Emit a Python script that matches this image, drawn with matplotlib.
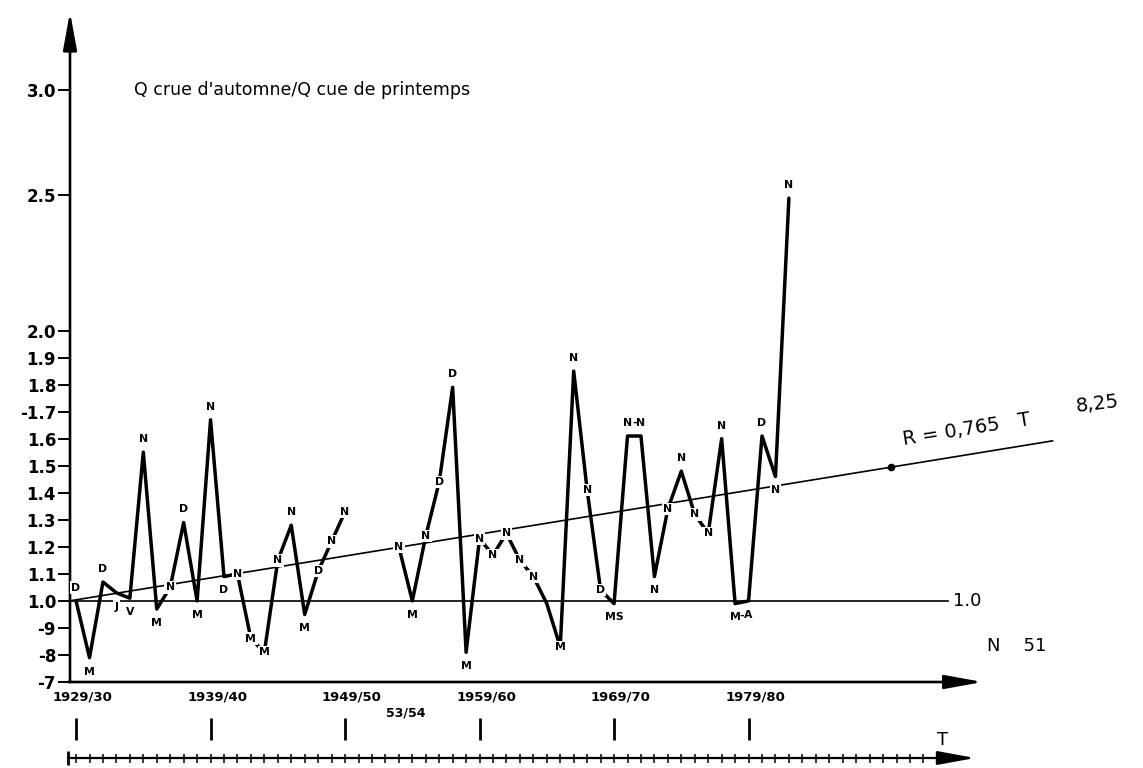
import numpy as np
import matplotlib
matplotlib.use("Agg")
import matplotlib.pyplot as plt

# ---------------- data ----------------
years_a = list(range(1929, 1950))
vals_a = [1.00, 0.79, 1.07, 1.03, 1.01, 1.55, 0.97, 1.05, 1.29, 1.00, 1.67,
          1.09, 1.10, 0.86, 0.81, 1.15, 1.28, 0.95, 1.11, 1.22, 1.33]
labels_a = ['D', 'M', 'D', 'J', 'V', 'N', 'M', 'N', 'D', 'M', 'N',
            'D', 'N', 'M', 'M', 'N', 'N', 'M', 'D', 'N', 'N']
lpos_a = ['a', 'b', 'a', 'b', 'b', 'a', 'b', 'o', 'a', 'b', 'a',
          'b', 'o', 'o', 'o', 'o', 'a', 'b', 'o', 'o', 'o']

years_b = list(range(1953, 1983))
vals_b = [1.20, 1.00, 1.24, 1.44, 1.79, 0.81, 1.23, 1.17, 1.25, 1.15, 1.09,
          0.99, 0.83, 1.85, 1.41, 1.04, 0.99, 1.61, 1.61, 1.09, 1.34, 1.48,
          1.32, 1.25, 1.60, 0.99, 1.00, 1.61, 1.46, 2.49]
labels_b = ['N', 'M', 'N', 'D', 'D', 'M', 'N', 'N', 'N', 'N', 'N',
            '', 'M', 'N', 'N', 'D', 'MS', 'N', 'N', 'N', 'N', 'N',
            'N', 'N', 'N', 'M', 'A', 'D', 'N', 'N']
lpos_b = ['o', 'b', 'o', 'o', 'a', 'b', 'o', 'o', 'o', 'o', 'o',
          'o', 'o', 'a', 'o', 'o', 'b', 'a', 'a', 'b', 'o', 'a',
          'o', 'o', 'a', 'b', 'b', 'a', 'b', 'a']
dash_pairs = [(1970, 1971, 'a'), (1978, 1979, 'b')]

trend_at_1929 = 1.004
trend_slope = 0.0081          # per year
trend_start, trend_end = 1928.55, 2001.6
trend_dot_year = 1989.6

decades = [1929, 1939, 1949, 1959, 1969, 1979]
decade_labels = ['1929/30', '1939/40', '1949/50', '1959/60', '1969/70', '1979/80']

ytick_vals = [0.7, 0.8, 0.9, 1.0, 1.1, 1.2, 1.3, 1.4, 1.5, 1.6, 1.7, 1.8, 1.9,
              2.0, 2.5, 3.0]
ytick_labels = ['-7', '-8', '-9', '1.0', '1.1', '1.2', '1.3', '1.4', '1.5',
                '1.6', '-1.7', '1.8', '1.9', '2.0', '2.5', '3.0']

# ---------------- figure ----------------
plt.rcParams['font.family'] = ['DejaVu Sans']
W, H = 1143, 768
PX_PER_YEAR = 13.45
X0, X1 = 1928.55, 1996.4
Y0, Y1 = 0.7, 3.37

fig = plt.figure(figsize=(W / 100, H / 100), dpi=100)
ax = fig.add_axes([70 / W, 86 / H, (X1 - X0) * PX_PER_YEAR / W, 670 / H])


def fwd(v):
    v = np.asarray(v, dtype=float)
    return np.where(v <= 2.5, v, 2.5 + (v - 2.5) * 0.78)


def inv(u):
    u = np.asarray(u, dtype=float)
    return np.where(u <= 2.5, u, 2.5 + (u - 2.5) / 0.78)


ax.set_yscale('function', functions=(fwd, inv))
ax.set_xlim(X0, X1)
ax.set_ylim(Y0, Y1)
for s in ax.spines.values():
    s.set_visible(False)

# axes with arrows
arrow_kw = dict(arrowstyle='-|>,head_length=2.3,head_width=0.42', lw=1.9,
                color='black', mutation_scale=10, shrinkA=0, shrinkB=0)
ax.annotate('', xy=(0, 1), xytext=(0, 0), xycoords='axes fraction',
            arrowprops=arrow_kw, annotation_clip=False)
ax.annotate('', xy=(1, 0), xytext=(-0.002, 0), xycoords='axes fraction',
            arrowprops=arrow_kw, annotation_clip=False)

ax.set_yticks(ytick_vals)
ax.set_yticklabels(ytick_labels)
ax.yaxis.set_minor_locator(matplotlib.ticker.NullLocator())
ax.tick_params(axis='y', direction='out', length=9, width=1.4, pad=1,
               labelsize=12)
for t in ax.get_yticklabels():
    t.set_fontweight('bold')
ax.set_xticks([])

# reference line 1.0 and trend
ax.plot([X0, 1993.8], [1.0, 1.0], color='black', lw=1.2, zorder=2)
tx = np.array([trend_start, trend_end])
ty = trend_at_1929 + trend_slope * (tx - 1929)
ax.plot(tx, ty, color='black', lw=1.2, zorder=2, clip_on=False)
ax.plot([trend_dot_year], [trend_at_1929 + trend_slope * (trend_dot_year - 1929)],
        'o', color='black', ms=4.5, zorder=3, clip_on=False)

# data series
for yrs, vals in ((years_a, vals_a), (years_b, vals_b)):
    ax.plot(yrs, vals, color='black', lw=2.5, solid_joinstyle='round',
            solid_capstyle='round', zorder=3, clip_on=False)

offs = {'a': (0, 9.5), 'b': (0, -10), 'o': (0, 0)}
lab_kw = dict(textcoords='offset points', ha='center', va='center',
              fontsize=7.8, fontweight='bold', zorder=5,
              bbox=dict(boxstyle='square,pad=0.12', fc='white', ec='none'))
for yrs, vals, labs, poss in ((years_a, vals_a, labels_a, lpos_a),
                              (years_b, vals_b, labels_b, lpos_b)):
    for yr, v, lab, p in zip(yrs, vals, labs, poss):
        if lab:
            ax.annotate(lab, (yr, v), xytext=offs[p], **lab_kw)
val_of = dict(zip(years_a + years_b, vals_a + vals_b))
for y1, y2, p in dash_pairs:
    ax.annotate('-', ((y1 + y2) / 2, (val_of[y1] + val_of[y2]) / 2),
                xytext=offs[p], textcoords='offset points', ha='center',
                va='center', fontsize=8, fontweight='bold', zorder=5)

# texts
ax.text(0.07, 3.0, "Q crue d'automne/Q cue de printemps",
        transform=ax.get_yaxis_transform(), fontsize=12.5, va='center',
        ha='left')
ax.text(1994.2, 1.0, '1.0', fontsize=13, va='center', ha='left',
        clip_on=False)
ax.text(1996.7, 0.833, 'N    51', fontsize=13, va='center', ha='left',
        clip_on=False)
ax.text(1990.5, 1.578, 'R = 0,765   T', fontsize=14, va='baseline',
        ha='left', rotation=9, rotation_mode='anchor', clip_on=False)
ax.text(2003.4, 1.70, '8,25', fontsize=14, va='baseline', ha='left',
        rotation=7, rotation_mode='anchor', clip_on=False)

for yr, lbl in zip(decades, decade_labels):
    ax.annotate(lbl, (yr + 0.5, 0), xycoords=('data', 'axes fraction'),
                xytext=(0, -11), textcoords='offset points', ha='center',
                va='center', fontsize=9.5, fontweight='bold',
                annotation_clip=False)
ax.annotate('53/54', (1953.5, 0), xycoords=('data', 'axes fraction'),
            xytext=(0, -22), textcoords='offset points', ha='center',
            va='center', fontsize=9, fontweight='bold', annotation_clip=False)

# lower time axis
ax2 = fig.add_axes([70 / W, 0, (X1 - X0) * PX_PER_YEAR / W, 60 / H])
ax2.set_xlim(X0, X1)
ax2.set_ylim(0, 60)
ax2.axis('off')
ax2.vlines(decades, 28, 50, color='black', lw=2.0, clip_on=False)
ax2.annotate('', xy=(1995.84, 10), xytext=(1928.4, 10),
             arrowprops=dict(arrowstyle='-|>,head_length=2.3,head_width=0.42',
                             lw=1.6, color='black', mutation_scale=10,
                             shrinkA=0, shrinkB=0), annotation_clip=False)
ax2.vlines(np.arange(1929, 1993), 5.5, 14.5, color='black', lw=1.1,
           clip_on=False)
ax2.vlines([1928.4], 3, 17, color='black', lw=2.0, clip_on=False)
ax2.text(1993.4, 28, 'T', fontsize=13, ha='center', va='center')

fig.savefig('out.png', dpi=100)
